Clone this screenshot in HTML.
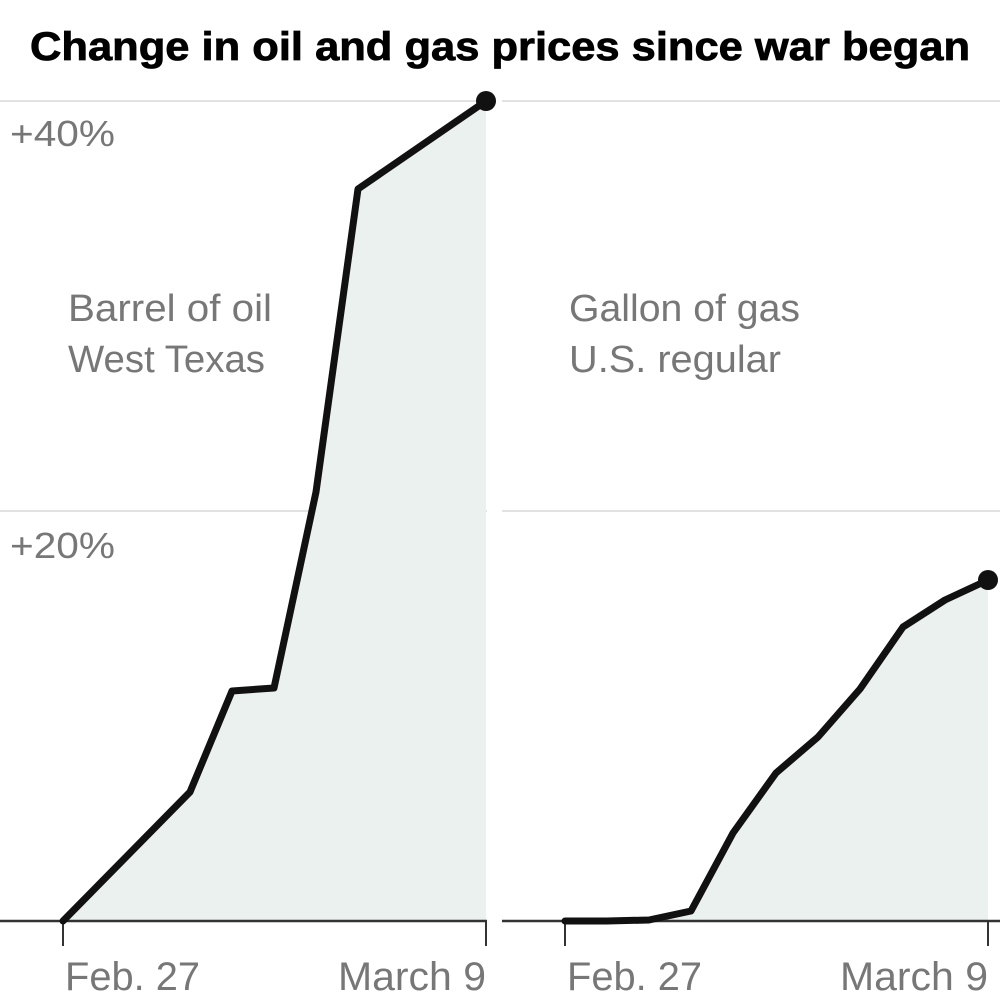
<!DOCTYPE html>
<html><head><style>body{margin:0;background:#fff}svg{display:block}</style></head>
<body>
<svg width="1000" height="1000" viewBox="0 0 1000 1000" xmlns="http://www.w3.org/2000/svg" font-family="Liberation Sans, sans-serif">
<text x="500" y="60" text-anchor="middle" font-weight="bold" font-size="40" textLength="940" lengthAdjust="spacingAndGlyphs" fill="#000" stroke="#000" stroke-width="0.8">Change in oil and gas prices since war began</text>
<g stroke="#e2e2e2" stroke-width="2">
<line x1="0" y1="101" x2="487" y2="101"/><line x1="502" y1="101" x2="1000" y2="101"/>
<line x1="0" y1="511" x2="487" y2="511"/><line x1="502" y1="511" x2="1000" y2="511"/>
</g>
<polygon fill="#ebf1ee" points="63,921 190,792 232,691 274,688 316,492 358,189 486,101 486,921"/>
<polygon fill="#ebf1ee" points="565,921 607,921 649,920 691,911 733,833 776,773 818,737 860,689 903,627 945,600 988,580 988,921"/>
<g fill="#777" font-size="36">
<text x="10" y="146" textLength="105" lengthAdjust="spacingAndGlyphs">+40%</text>
<text x="10" y="558" textLength="105" lengthAdjust="spacingAndGlyphs">+20%</text>
</g>
<g fill="#777" font-size="38">
<text x="68" y="321" textLength="204" lengthAdjust="spacingAndGlyphs">Barrel of oil</text>
<text x="68" y="372" textLength="197" lengthAdjust="spacingAndGlyphs">West Texas</text>
<text x="569" y="321" textLength="231" lengthAdjust="spacingAndGlyphs">Gallon of gas</text>
<text x="569" y="372" textLength="212" lengthAdjust="spacingAndGlyphs">U.S. regular</text>
</g>
<g stroke="#333" stroke-width="2.5">
<line x1="0" y1="921" x2="487" y2="921"/><line x1="502" y1="921" x2="1000" y2="921"/>
</g>
<g stroke="#333" stroke-width="2">
<line x1="63" y1="921" x2="63" y2="946"/><line x1="486" y1="921" x2="486" y2="946"/>
<line x1="565" y1="921" x2="565" y2="946"/><line x1="988" y1="921" x2="988" y2="946"/>
</g>
<g fill="none" stroke="#111" stroke-width="7" stroke-linejoin="round" stroke-linecap="round">
<polyline points="63,921 190,792 232,691 274,688 316,492 358,189 486,101"/>
<polyline points="565,921 607,921 649,920 691,911 733,833 776,773 818,737 860,689 903,627 945,600 988,580"/>
</g>
<circle cx="486" cy="101" r="10" fill="#111"/>
<circle cx="988" cy="580" r="10" fill="#111"/>
<g fill="#777" font-size="40">
<text x="65" y="990" textLength="135" lengthAdjust="spacingAndGlyphs">Feb. 27</text>
<text x="486" y="990" text-anchor="end" textLength="148" lengthAdjust="spacingAndGlyphs">March 9</text>
<text x="567" y="990" textLength="135" lengthAdjust="spacingAndGlyphs">Feb. 27</text>
<text x="988" y="990" text-anchor="end" textLength="148" lengthAdjust="spacingAndGlyphs">March 9</text>
</g>
</svg>
</body></html>
